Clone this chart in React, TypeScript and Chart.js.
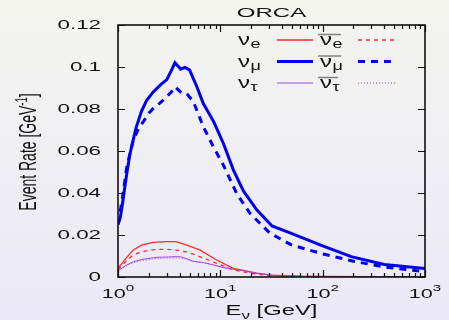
import { useEffect, useRef } from 'react';
import { Chart, registerables } from 'chart.js';
Chart.register(...registerables);

// ---------- data ----------
const chartTitle = 'ORCA';
const xTicks = [1, 10, 100, 1000];
const xTickExp = ['0', '1', '2', '3'];
const yTicks = [0, 0.02, 0.04, 0.06, 0.08, 0.1, 0.12];
const yTickLabels = ['0', '0.02', '0.04', '0.06', '0.08', '0.1', '0.12'];

const numuE = [1, 1.05, 1.1, 1.2, 1.3, 1.5, 1.7, 1.9, 2.2, 2.6, 3.0, 3.3, 3.6, 4.1, 4.5, 5.0, 5.9, 6.8, 8.6, 10.7, 13.4, 16.8, 22.7, 32, 48, 100, 190, 400, 1000];
const numuV = [0.025, 0.028, 0.034, 0.047, 0.058, 0.071, 0.079, 0.084, 0.088, 0.0915, 0.094, 0.098, 0.102, 0.099, 0.0998, 0.0986, 0.0906, 0.0827, 0.074, 0.0637, 0.051, 0.041, 0.032, 0.0243, 0.021, 0.0148, 0.0097, 0.006, 0.004];

const numubarE = [1, 1.1, 1.22, 1.41, 1.6, 1.77, 2.0, 2.21, 2.6, 3.0, 3.3, 3.61, 4.2, 4.7, 5.45, 6.82, 8.55, 10.7, 14.4, 19.5, 30.6, 50, 100, 200, 400, 1000];
const numubarV = [0.025, 0.037, 0.0525, 0.0652, 0.071, 0.074, 0.078, 0.0803, 0.083, 0.0859, 0.088, 0.0906, 0.0875, 0.0873, 0.0835, 0.0716, 0.062, 0.0533, 0.0399, 0.0303, 0.0208, 0.0152, 0.011, 0.0075, 0.0048, 0.0025];

const nueE = [1, 1.2, 1.41, 1.7, 2.2, 3.0, 3.7, 4.7, 6.3, 9.2, 13.4, 22.7, 32, 60, 100, 1000];
const nueV = [0.004, 0.009, 0.0129, 0.0152, 0.0165, 0.0168, 0.0168, 0.0152, 0.0129, 0.0081, 0.0041, 0.0018, 0.0009, 0.0004, 0.0003, 0.0001];

const nuebarE = [1, 1.2, 1.41, 1.64, 2.05, 2.6, 3.0, 4.1, 5.0, 6.3, 9.2, 13.4, 22.7, 32, 60, 100, 1000];
const nuebarV = [0.0035, 0.0075, 0.0105, 0.0117, 0.0129, 0.0132, 0.0132, 0.0126, 0.0115, 0.0097, 0.0065, 0.0033, 0.0013, 0.0006, 0.0003, 0.0002, 0.00005];

const nutauE = [1, 1.2, 1.41, 1.7, 2.05, 2.4, 3.0, 3.7, 4.1, 4.6, 5.4, 6.8, 8.5, 10.7, 15.6, 22.7, 32, 60, 100, 1000];
const nutauV = [0.003, 0.0055, 0.0073, 0.0083, 0.0089, 0.0094, 0.0095, 0.0097, 0.0096, 0.0089, 0.0075, 0.0069, 0.0058, 0.0045, 0.0033, 0.0018, 0.0008, 0.0003, 0.0001, 0.00005];
const nutaubarV = [0.003, 0.0052, 0.0068, 0.0078, 0.0084, 0.0088, 0.009, 0.0091, 0.009, 0.0085, 0.0074, 0.0068, 0.0057, 0.0044, 0.0032, 0.0017, 0.0008, 0.0003, 0.0001, 0.00005];

const RED = '#ff2a2a';
const BLUE = '#0000f0';
const PURPLE = '#a446e0';
const FONT = '"Liberation Sans", Arial, Helvetica, sans-serif';
const SX = 1.72;

function pts(xs: number[], ys: number[]) {
  return xs.map((x, i) => ({ x, y: ys[i] }));
}

function sText(ctx: CanvasRenderingContext2D, text: string, x: number, y: number, size: number, align: string, sx: number, baseline: CanvasTextBaseline = 'alphabetic') {
  ctx.save();
  ctx.font = `${size}px ${FONT}`;
  ctx.textBaseline = baseline;
  ctx.textAlign = 'left';
  const w = ctx.measureText(text).width * sx;
  const x0 = align === 'center' ? x - w / 2 : align === 'right' ? x - w : x;
  ctx.translate(x0, y);
  ctx.scale(sx, 1);
  ctx.fillText(text, 0, 0);
  ctx.restore();
  return w;
}
function tw(ctx: CanvasRenderingContext2D, text: string, size: number, sx: number) {
  ctx.save();
  ctx.font = `${size}px ${FONT}`;
  const w = ctx.measureText(text).width * sx;
  ctx.restore();
  return w;
}

// dataset indices: 0 anti-tau, 1 tau, 2 anti-mu, 3 mu, 4 anti-e, 5 e
const legendRows = [
  { sub: 'e', solid: 5, dashed: 4 },
  { sub: 'μ', solid: 3, dashed: 2 },
  { sub: 'τ', solid: 1, dashed: 0 },
];

const bgPlugin = {
  id: 'bg',
  beforeDraw(chart: any) {
    const ctx = chart.ctx as CanvasRenderingContext2D;
    const g = ctx.createLinearGradient(0, 0, 0, chart.height);
    g.addColorStop(0, '#f4f4ef');
    g.addColorStop(1, '#ebe9f7');
    ctx.save();
    ctx.fillStyle = g;
    ctx.fillRect(0, 0, chart.width, chart.height);
    ctx.restore();
  },
};

const decoPlugin = {
  id: 'deco',
  afterDraw(chart: any) {
    const ctx = chart.ctx as CanvasRenderingContext2D;
    const { left, right, top, bottom } = chart.chartArea;
    const xs = chart.scales.x;
    const ys = chart.scales.y;
    ctx.save();
    ctx.strokeStyle = '#111';
    ctx.fillStyle = '#111';
    // ticks
    ctx.lineWidth = 1.2;
    ctx.beginPath();
    yTicks.forEach((v) => {
      const py = Math.round(ys.getPixelForValue(v)) + 0.5;
      ctx.moveTo(left, py); ctx.lineTo(left + 7, py);
      ctx.moveTo(right, py); ctx.lineTo(right - 7, py);
    });
    for (let d = 0; d < xTicks.length; d++) {
      const px = Math.round(xs.getPixelForValue(xTicks[d])) + 0.5;
      ctx.moveTo(px, bottom); ctx.lineTo(px, bottom - 7);
      ctx.moveTo(px, top); ctx.lineTo(px, top + 7);
      if (d < xTicks.length - 1) {
        for (let k = 2; k <= 9; k++) {
          const mx = Math.round(xs.getPixelForValue(xTicks[d] * k)) + 0.5;
          ctx.moveTo(mx, bottom); ctx.lineTo(mx, bottom - 4);
          ctx.moveTo(mx, top); ctx.lineTo(mx, top + 4);
        }
      }
    }
    ctx.stroke();
    // frame
    ctx.lineWidth = 1.6;
    ctx.strokeRect(left, top, right - left, bottom - top);

    // y tick labels
    yTicks.forEach((v, i) => {
      const py = ys.getPixelForValue(v);
      sText(ctx, yTickLabels[i], left - 17, py + 0.5, 13, 'right', SX, 'middle');
    });
    // x tick labels
    xTicks.forEach((v, i) => {
      const px = xs.getPixelForValue(v);
      const w1 = tw(ctx, '10', 13.5, 1.6);
      const w2 = tw(ctx, xTickExp[i], 9.5, 1.6);
      const x0 = px - (w1 + w2) / 2;
      sText(ctx, '10', x0, 298, 13.5, 'left', 1.6);
      sText(ctx, xTickExp[i], x0 + w1, 291, 9.5, 'left', 1.6);
    });
    // title
    sText(ctx, chartTitle, (left + right) / 2, 16.5, 13, 'center', 1.85);
    // x axis title
    {
      const wE = tw(ctx, 'E', 14, 1.7);
      const wN = tw(ctx, 'ν', 10, 1.7);
      const wR = tw(ctx, ' [GeV]', 14, 1.7);
      const x0 = (left + right) / 2 - (wE + wN + wR) / 2;
      sText(ctx, 'E', x0, 315, 14, 'left', 1.7);
      sText(ctx, 'ν', x0 + wE, 318.5, 10, 'left', 1.7);
      sText(ctx, ' [GeV]', x0 + wE + wN, 315, 14, 'left', 1.7);
    }
    // y axis title (rotated)
    {
      ctx.save();
      ctx.translate(27, 152);
      ctx.rotate(-Math.PI / 2);
      ctx.scale(1, 1.75);
      ctx.font = `14px ${FONT}`;
      const a = 'Event Rate [GeV';
      const wa = ctx.measureText(a).width;
      ctx.font = `9.5px ${FONT}`;
      const wb = ctx.measureText('-1').width;
      ctx.font = `14px ${FONT}`;
      const wc = ctx.measureText(']').width;
      const x0 = -(wa + wb + wc) / 2;
      ctx.textBaseline = 'alphabetic';
      ctx.fillText(a, x0, 5);
      ctx.font = `9.5px ${FONT}`;
      ctx.fillText('-1', x0 + wa, 0);
      ctx.font = `14px ${FONT}`;
      ctx.fillText(']', x0 + wa + wb, 5);
      ctx.restore();
    }
    // legend
    const rowY = [40, 61.5, 83];
    legendRows.forEach((r, i) => {
      const y = rowY[i];
      const dsS = chart.data.datasets[r.solid];
      const dsD = chart.data.datasets[r.dashed];
      ctx.fillStyle = '#111';
      const wn = sText(ctx, 'ν', 238, y + 5, 16, 'left', 1.5);
      sText(ctx, r.sub, 238 + wn + 0.5, y + 8, 12, 'left', 1.5);
      ctx.save();
      ctx.strokeStyle = dsS.borderColor;
      ctx.lineWidth = dsS.borderWidth;
      ctx.setLineDash([]);
      ctx.beginPath(); ctx.moveTo(277, y); ctx.lineTo(313, y); ctx.stroke();
      ctx.restore();
      const wn2 = sText(ctx, 'ν', 320, y + 5, 16, 'left', 1.5);
      const ws2 = sText(ctx, r.sub, 320 + wn2 + 0.5, y + 8, 12, 'left', 1.5);
      ctx.save();
      ctx.strokeStyle = '#808080';
      ctx.lineWidth = 1.5;
      ctx.beginPath(); ctx.moveTo(318, y - 5.5); ctx.lineTo(320 + wn2 + ws2 - 1, y - 5.5); ctx.stroke();
      ctx.strokeStyle = dsD.borderColor;
      ctx.lineWidth = dsD.borderWidth;
      ctx.setLineDash(dsD.borderDash || []);
      ctx.beginPath(); ctx.moveTo(358, y); ctx.lineTo(396, y); ctx.stroke();
      ctx.restore();
    });
    ctx.restore();
  },
};

export default function App() {
  const ref = useRef<HTMLCanvasElement | null>(null);
  useEffect(() => {
    document.body.style.margin = '0';
    if (!ref.current) return;
    const chart = new Chart(ref.current, {
      type: 'line',
      data: {
        datasets: [
          { label: 'anti nu_tau', data: pts(nutauE, nutaubarV), borderColor: PURPLE, borderWidth: 1, borderDash: [1, 2], pointRadius: 0, tension: 0 },
          { label: 'nu_tau', data: pts(nutauE, nutauV), borderColor: PURPLE, borderWidth: 1, pointRadius: 0, tension: 0 },
          { label: 'anti nu_mu', data: pts(numubarE, numubarV), borderColor: BLUE, borderWidth: 3, borderDash: [7, 6], pointRadius: 0, tension: 0 },
          { label: 'nu_mu', data: pts(numuE, numuV), borderColor: BLUE, borderWidth: 3, pointRadius: 0, tension: 0 },
          { label: 'anti nu_e', data: pts(nuebarE, nuebarV), borderColor: RED, borderWidth: 1.3, borderDash: [4, 4], pointRadius: 0, tension: 0 },
          { label: 'nu_e', data: pts(nueE, nueV), borderColor: RED, borderWidth: 1.3, pointRadius: 0, tension: 0 },
        ],
      },
      options: {
        animation: false,
        responsive: false,
        devicePixelRatio: 1,
        layout: { padding: { left: 118, right: 24, top: 25, bottom: 43 } },
        scales: {
          x: { type: 'logarithmic', min: 1, max: 1000, display: false },
          y: { type: 'linear', min: 0, max: 0.12, display: false },
        },
        plugins: { legend: { display: false }, tooltip: { enabled: false }, title: { display: false } },
      },
      plugins: [bgPlugin, decoPlugin],
    } as any);
    return () => chart.destroy();
  }, []);
  return (
    <div style={{ width: 449, height: 320 }}>
      <canvas ref={ref} width={449} height={320} style={{ display: 'block' }} />
    </div>
  );
}
